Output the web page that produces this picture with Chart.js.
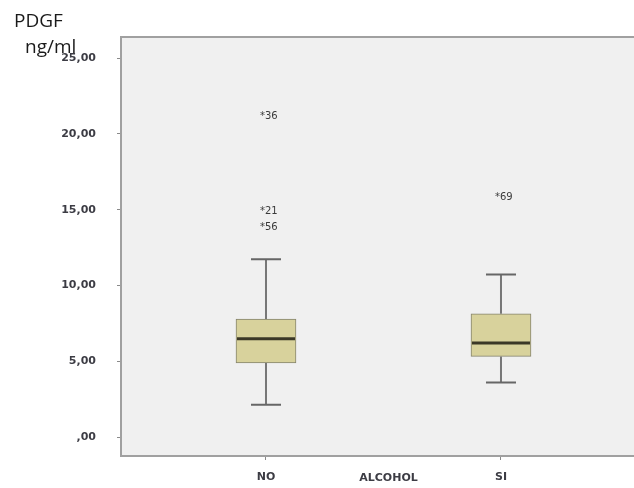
<!DOCTYPE html>
<html>
<head>
<meta charset="utf-8">
<title>PDGF ng/ml por ALCOHOL</title>
<script src="https://cdn.jsdelivr.net/npm/chart.js@4/dist/chart.umd.min.js"></script>
<style>
  html, body { margin: 0; padding: 0; background: #ffffff; overflow: hidden; }
  canvas { display: block; }
</style>
</head>
<body>
<canvas id="c" width="634" height="488"></canvas>
<script>
// Box-plot summary per group (PDGF, ng/ml)
const categories   = ['NO', 'SI'];
const whiskerLow   = [2.13, 3.60];
const quartile1    = [4.90, 5.32];
const medians      = [6.48, 6.20];
const quartile3    = [7.78, 8.13];
const whiskerHigh  = [11.74, 10.73];

// Extreme values with their case numbers
const outlierCases  = [['36', '21', '56'], ['69']];
const outlierValues = [[21.17, 14.86, 13.83], [15.81]];

// Axis ticks and titles
const yTickValues = [0, 5, 10, 15, 20, 25];
const yTickLabels = [',00', '5,00', '10,00', '15,00', '20,00', '25,00'];
const yTitleLines = ['PDGF', 'ng/ml'];
const xTitle = 'ALCOHOL';

const tickFont = { family: 'DejaVu Sans', size: 11, weight: 'bold' };
const tickColor = '#3c3c44';
const frameColor = '#a0a0a0';

const boxPlotPlugin = {
  id: 'boxPlotParts',
  beforeDraw(chart) {
    const { ctx, chartArea: a } = chart;
    ctx.save();
    ctx.fillStyle = '#ffffff';
    ctx.fillRect(0, 0, chart.width, chart.height);
    ctx.fillStyle = '#f0f0f0';
    ctx.fillRect(a.left, a.top, a.right - a.left, a.bottom - a.top);
    ctx.restore();
  },
  beforeDatasetsDraw(chart) {
    const { ctx } = chart;
    const xs = chart.scales.x, ys = chart.scales.y;
    ctx.save();
    categories.forEach((c, i) => {
      const x = xs.getPixelForValue(i + 1);
      const capHalf = 15;
      // whisker stems
      ctx.strokeStyle = '#777777';
      ctx.lineWidth = 2;
      ctx.beginPath();
      ctx.moveTo(x, ys.getPixelForValue(quartile3[i]));
      ctx.lineTo(x, ys.getPixelForValue(whiskerHigh[i]));
      ctx.moveTo(x, ys.getPixelForValue(quartile1[i]));
      ctx.lineTo(x, ys.getPixelForValue(whiskerLow[i]));
      ctx.stroke();
      // whisker caps
      ctx.strokeStyle = '#666666';
      ctx.beginPath();
      [whiskerHigh[i], whiskerLow[i]].forEach(v => {
        const y = ys.getPixelForValue(v);
        ctx.moveTo(x - capHalf, y);
        ctx.lineTo(x + capHalf, y);
      });
      ctx.stroke();
    });
    ctx.restore();
  },
  afterDatasetsDraw(chart) {
    const { ctx } = chart;
    const xs = chart.scales.x, ys = chart.scales.y;
    const meta = chart.getDatasetMeta(0);
    ctx.save();
    // medians
    meta.data.forEach((bar, i) => {
      const half = bar.width / 2 - 1;
      const y = ys.getPixelForValue(medians[i]);
      ctx.strokeStyle = '#3b3827';
      ctx.lineWidth = 3;
      ctx.beginPath();
      ctx.moveTo(bar.x - half, y);
      ctx.lineTo(bar.x + half, y);
      ctx.stroke();
    });
    // extreme values labelled with case number
    ctx.font = '10px "DejaVu Sans"';
    ctx.fillStyle = '#3a3a3a';
    ctx.textAlign = 'left';
    ctx.textBaseline = 'middle';
    categories.forEach((c, i) => {
      const x = xs.getPixelForValue(i + 1);
      outlierValues[i].forEach((v, k) => {
        ctx.fillText('*' + outlierCases[i][k], x - 6, ys.getPixelForValue(v));
      });
    });
    ctx.restore();
  },
  afterDraw(chart) {
    const { ctx, chartArea: a } = chart;
    const xs = chart.scales.x;
    ctx.save();
    // top edge of the plot frame
    ctx.strokeStyle = frameColor;
    ctx.lineWidth = 2;
    ctx.beginPath();
    ctx.moveTo(a.left - 1, a.top);
    ctx.lineTo(a.right, a.top);
    ctx.stroke();
    // x axis title sits on the tick-label line, between the groups
    ctx.font = 'bold 11px "DejaVu Sans"';
    ctx.fillStyle = tickColor;
    ctx.textAlign = 'center';
    ctx.textBaseline = 'middle';
    ctx.fillText(xTitle, xs.getPixelForValue(1.5) + 5, a.bottom + 22);
    // y axis title, two lines above the axis
    ctx.font = '19px "Open Sans"';
    ctx.fillStyle = '#1a1a1a';
    ctx.textAlign = 'left';
    ctx.textBaseline = 'alphabetic';
    ctx.fillText(yTitleLines[0], 14, 27);
    ctx.fillText(yTitleLines[1], 25, 53);
    ctx.restore();
  }
};

new Chart(document.getElementById('c'), {
  type: 'bar',
  data: {
    datasets: [{
      data: categories.map((c, i) => ({ x: i + 1, y: [quartile1[i], quartile3[i]] })),
      backgroundColor: '#d8d29c',
      borderColor: '#85836c',
      borderWidth: 1,
      borderSkipped: false,
      barThickness: 60
    }]
  },
  options: {
    responsive: false,
    animation: false,
    events: [],
    layout: { padding: { top: 37, left: 0, right: 0, bottom: 0 } },
    plugins: { legend: { display: false }, tooltip: { enabled: false } },
    scales: {
      x: {
        type: 'linear',
        offset: false,
        min: 0.383,
        max: 2.566,
        afterBuildTicks: s => { s.ticks = categories.map((c, i) => ({ value: i + 1 })); },
        afterFit: s => { s.height = 32; },
        ticks: {
          callback: (v, i) => categories[i],
          font: tickFont,
          color: tickColor,
          padding: 11,
          maxRotation: 0,
          autoSkip: false
        },
        grid: { offset: false, drawOnChartArea: false, tickLength: 4, tickColor: '#8a8a8a', tickWidth: 1 },
        border: { display: true, color: frameColor, width: 2 }
      },
      y: {
        type: 'linear',
        min: -1.25,
        max: 26.4,
        afterBuildTicks: s => { s.ticks = yTickValues.map(v => ({ value: v })); },
        afterFit: s => { s.width = 121; },
        ticks: {
          callback: (v, i) => yTickLabels[i],
          font: tickFont,
          color: tickColor,
          padding: 21
        },
        grid: { drawOnChartArea: false, tickLength: 4, tickColor: '#8a8a8a', tickWidth: 1 },
        border: { display: true, color: frameColor, width: 2 }
      }
    }
  },
  plugins: [boxPlotPlugin]
});
</script>
</body>
</html>
